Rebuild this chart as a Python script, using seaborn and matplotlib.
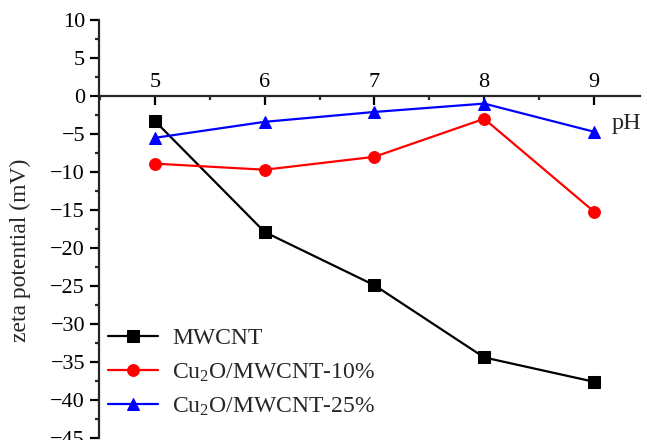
import numpy as np
import pandas as pd
import matplotlib
matplotlib.use("Agg")
import matplotlib.pyplot as plt
import seaborn as sns
from matplotlib.ticker import MultipleLocator

# data
ph = [5, 6, 7, 8, 9]
mwcnt = [-3.3, -17.9, -24.9, -34.4, -37.6]
cu2o_10 = [-8.9, -9.7, -8.0, -3.0, -15.2]
cu2o_25 = [-5.5, -3.4, -2.1, -1.0, -4.7]

series_names = ["MWCNT", "Cu$_2$O/MWCNT-10%", "Cu$_2$O/MWCNT-25%"]
series_vals = [mwcnt, cu2o_10, cu2o_25]
colors = ["black", "#ff0000", "#0000ff"]
markers = ["s", "o", "^"]

SERIF = "Liberation Serif"

sns.set_style("ticks")
plt.rcParams["font.family"] = [SERIF, "DejaVu Serif"]
plt.rcParams["mathtext.fontset"] = "custom"
plt.rcParams["mathtext.rm"] = SERIF
plt.rcParams["mathtext.it"] = SERIF + ":italic"

fig = plt.figure(figsize=(6.47, 4.4), dpi=100)
ax = fig.add_axes([99 / 647, 2 / 440, 541 / 647, 418 / 440])

for name, vals, c, m in zip(series_names, series_vals, colors, markers):
    sns.lineplot(x=ph, y=vals, ax=ax, color=c, marker=m, markersize=8.5,
                 markeredgecolor=c, linewidth=1.6, label=name)

ax.set_xlim(4.49, 9.42)
ax.set_ylim(-45, 10)

for s in ["top", "right"]:
    ax.spines[s].set_visible(False)
ax.spines["bottom"].set_position(("data", 0))
ax.spines["bottom"].set_linewidth(1.6)
ax.spines["left"].set_linewidth(1.6)

ax.xaxis.set_major_locator(MultipleLocator(1))
ax.xaxis.set_minor_locator(MultipleLocator(0.5))
ax.yaxis.set_major_locator(MultipleLocator(5))
ax.yaxis.set_minor_locator(MultipleLocator(2.5))

ax.tick_params(axis="both", which="major", direction="out", length=6.5, width=1.6,
               labelsize=16, colors="black", labelfontfamily=SERIF)
ax.tick_params(axis="both", which="minor", direction="out", length=3, width=1.6)
ax.tick_params(axis="x", which="major", pad=-9.5)
ax.set_xticks(ph)
ax.set_xticklabels([str(p) for p in ph], fontfamily=SERIF)
for lbl in ax.get_xticklabels():
    lbl.set_va("bottom")

ax.set_xlabel("")
ax.set_ylabel("zeta potential (mV)", fontsize=17)
ax.yaxis.set_label_coords(-0.125, 0.45)

ax.text(9.3, -3.6, "pH", fontsize=17.5, ha="center", va="center")

leg = ax.legend(loc="lower left", bbox_to_anchor=(0.0, 0.026), frameon=False,
                fontsize=17, handlelength=2.1, labelspacing=0.5,
                borderaxespad=0.0, handletextpad=0.6)

fig.savefig("out.png", dpi=100)
